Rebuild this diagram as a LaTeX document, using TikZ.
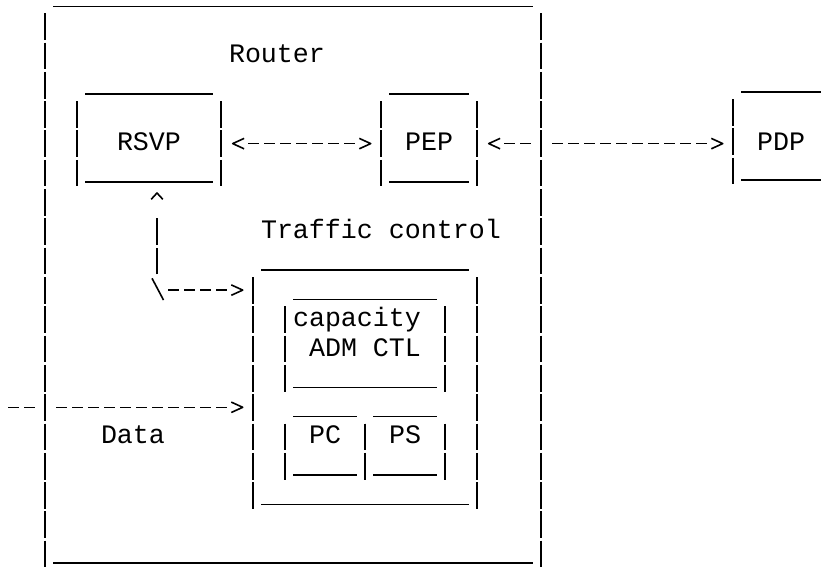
\documentclass[tikz,border=0pt]{standalone}
\usepackage{fontspec}
\newfontfamily\ascfont{Liberation Mono}
\usetikzlibrary{arrows.meta,calc,fit}

\pgfdeclarearrow{
  name = AscGt,
  setup code = {
    \pgfarrowssettipend{0pt}
    \pgfarrowssetlineend{-7.75pt}
    \pgfarrowssetbackend{-5.7pt}
    \pgfarrowshullpoint{0pt}{0pt}
    \pgfarrowsupperhullpoint{-5.7pt}{2.6pt}
  },
  drawing code = {
    \pgfsetdash{}{0pt}
    \pgfsetroundjoin
    \pgfsetbuttcap
    \pgfpathmoveto{\pgfqpoint{-5.7pt}{2.6pt}}
    \pgfpathlineto{\pgfqpoint{0pt}{0pt}}
    \pgfpathlineto{\pgfqpoint{-5.7pt}{-2.6pt}}
    \pgfusepathqstroke
  }
}
\pgfdeclarearrow{
  name = AscCaret,
  setup code = {
    \pgfarrowssettipend{0pt}
    \pgfarrowssetlineend{-12.5pt}
    \pgfarrowssetbackend{-3.15pt}
    \pgfarrowshullpoint{0pt}{0pt}
    \pgfarrowsupperhullpoint{-3.15pt}{2.9pt}
  },
  drawing code = {
    \pgfsetdash{}{0pt}
    \pgfsetroundjoin
    \pgfsetbuttcap
    \pgfpathmoveto{\pgfqpoint{-3.15pt}{2.9pt}}
    \pgfpathlineto{\pgfqpoint{0pt}{0pt}}
    \pgfpathlineto{\pgfqpoint{-3.15pt}{-2.9pt}}
    \pgfusepathqstroke
  }
}

\tikzset{
  stroke/.style={line width=0.8pt, line cap=butt, black},
  uline/.style={stroke},
  vbar/.style={stroke, dash pattern=on 13.35pt off 1.3pt},
  dsh/.style={stroke, dash pattern=on 5.5pt off 2.5pt},
  region/.style={inner sep=0pt, outer sep=0pt, draw=none},
  txt/.style={font=\ascfont\fontsize{13.33pt}{16pt}\selectfont, inner sep=0pt, outer sep=0pt, anchor=base west},
}

% name, left col, right col, top row, bottom row
\newcommand\asciibox[5]{%
  \node[region, fit={({13+16*#2},{6.4+29.3*#4}) ({13+16*#3},{6.4+29.3*#5})}] (#1) {};
  \draw[uline] ($(#1.north west)+(8,0)$) -- ($(#1.north east)+(-8,0)$);
  \draw[uline] ($(#1.south west)+(8,0)$) -- ($(#1.south east)+(-8,0)$);
  \draw[vbar] ($(#1.north west)+(0,6.9)$) -- ($(#1.south west)+(0,4.3)$);
  \draw[vbar] ($(#1.north east)+(0,6.9)$) -- ($(#1.south east)+(0,4.3)$);
}

\begin{document}
\begin{tikzpicture}[x=0.5pt, y=-0.5pt]
\fill[white] (0,0) rectangle (822,566);
\useasboundingbox (0,0) rectangle (822,566);

% boxes
\asciibox{router}{2}{33}{0}{19}
\asciibox{rsvp}{4}{13}{3}{6}
\asciibox{pep}{23}{29}{3}{6}
\asciibox{tc}{15}{29}{9}{17}
\asciibox{cap}{17}{27}{10}{13}
\asciibox{pc}{17}{22}{14}{16}
\asciibox{ps}{22}{27}{14}{16}

% PDP box (open on the right)
\node[region, fit={(733,92.3) (821,180.2)}] (pdp) {};
\draw[uline] ($(pdp.north west)+(8,0)$) -- (pdp.north east);
\draw[uline] ($(pdp.south west)+(8,0)$) -- (pdp.south east);
\draw[vbar] ($(pdp.north west)+(0,6.9)$) -- ($(pdp.south west)+(0,4.3)$);

% labels
\node[txt] (routerlbl) at (229,63.0) {Router};
\node[txt] (rsvplbl) at (117,150.9) {RSVP};
\node[txt] (peplbl) at (405,150.9) {PEP};
\node[txt] (pdplbl) at (757,150.9) {PDP};
\node[txt] (tclbl) at (261,238.8) {Traffic control};
\node[txt] (caplbl) at (293,326.7) {capacity};
\node[txt] (admlbl) at (309,356.0) {ADM CTL};
\node[txt] (pclbl) at (309,443.9) {PC};
\node[txt] (pslbl) at (389,443.9) {PS};
\node[txt] (datalbl) at (101,443.9) {Data};

% connectors
\coordinate (row5) at (0,143.6);
\draw[dsh, AscGt-AscGt, shorten <=5.85pt, shorten >=5.15pt]
  (rsvp.east |- row5) -- (pep.west |- row5);

\draw[stroke, dash pattern=on 5.5pt off 2.5pt on 5.5pt off 10.5pt
  on 5.5pt off 2.5pt on 5.5pt off 2.5pt on 5.5pt off 2.5pt on 5.5pt off 2.5pt
  on 5.5pt off 2.5pt on 5.5pt off 2.5pt on 5.5pt off 2.5pt on 5.5pt off 2.5pt
  on 5.5pt off 2.5pt on 5.5pt off 2.5pt,
  AscGt-AscGt, shorten <=5.85pt, shorten >=5.15pt]
  (pep.east |- row5) -- (pdp.west |- row5);

\coordinate (datain) at (8,407.3);
\draw[stroke, dash pattern=on 5.5pt off 2.5pt on 5.5pt off 10.5pt
  on 5.5pt off 2.5pt on 5.5pt off 2.5pt on 5.5pt off 2.5pt on 5.5pt off 2.5pt
  on 5.5pt off 2.5pt on 5.5pt off 2.5pt on 5.5pt off 2.5pt on 5.5pt off 2.5pt
  on 5.5pt off 2.5pt on 5.5pt off 2.5pt on 5.5pt off 2.5pt,
  -AscGt, shorten >=5.15pt]
  (datain) -- (datain -| tc.west);

\coordinate (bend) at (157,274.4);
\coordinate (bsa) at (152,278.3);
\coordinate (bsb) at (163.5,300);
\coordinate (hstart) at (168,290.1);
\draw[vbar, -AscCaret, shorten >=5.4pt] (bend) -- (bend |- rsvp.south);
\draw[stroke] (bsa) -- (bsb);
\draw[dsh, -AscGt, shorten >=5.15pt] (hstart) -- (hstart -| tc.west);
\end{tikzpicture}
\end{document}
